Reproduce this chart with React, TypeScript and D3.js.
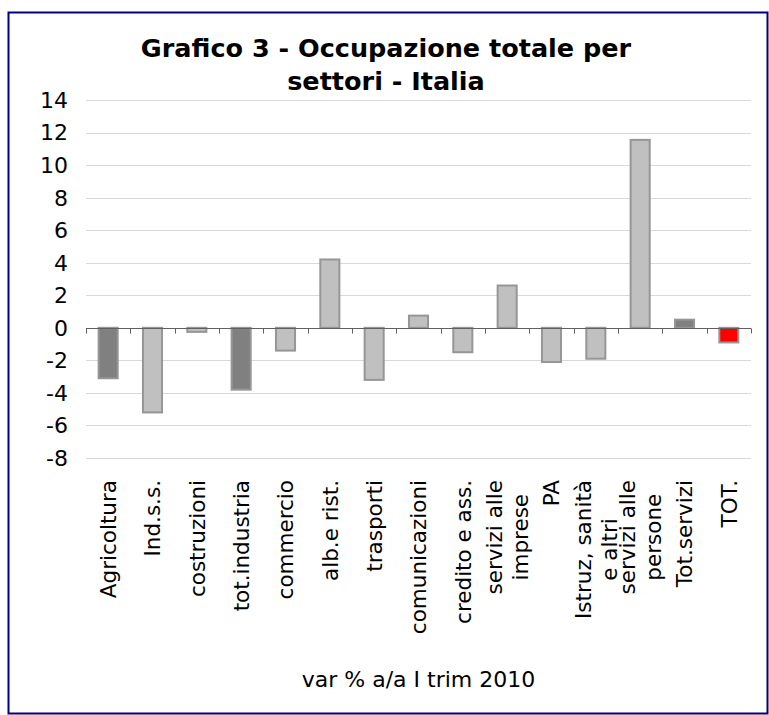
import React, { useEffect, useRef } from 'react';
import * as d3 from 'd3';

const categories = [
  'Agricoltura',
  'Ind.s.s.',
  'costruzioni',
  'tot.industria',
  'commercio',
  'alb.e rist.',
  'trasporti',
  'comunicazioni',
  'credito e ass.',
  'servizi alle\nimprese',
  'PA',
  'Istruz, sanità\ne altri',
  'servizi alle\npersone',
  'Tot.servizi',
  'TOT.',
];
const values = [-3.1, -5.2, -0.25, -3.8, -1.4, 4.2, -3.2, 0.75, -1.5, 2.6, -2.1, -1.9, 11.55, 0.5, -0.9];
const kinds = ['dark', 'light', 'light', 'dark', 'light', 'light', 'light', 'light', 'light', 'light', 'light', 'light', 'light', 'dark', 'total'];
const yTicks = [-8, -6, -4, -2, 0, 2, 4, 6, 8, 10, 12, 14];
const titleLines = ['Grafico 3 - Occupazione totale per', 'settori - Italia'];
const axisTitle = 'var % a/a I trim 2010';

const W = 769;
const H = 715;
const FONT = '"DejaVu Sans", Verdana, sans-serif';

export default function App() {
  const ref = useRef<SVGSVGElement>(null);

  useEffect(() => {
    const svg = d3.select(ref.current);
    svg.selectAll('*').remove();

    const x0 = 86, x1 = 751, yTop = 100, yBot = 458;
    const x = d3.scaleBand<string>().domain(categories).range([x0, x1]).padding(0);
    const y = d3.scaleLinear().domain([-8, 14]).range([yBot, yTop]);
    const bw = x.bandwidth();
    const barW = bw * 0.43;

    const fills: Record<string, string> = { dark: '#808080', light: '#c0c0c0', total: '#ff0000' };

    // border
    svg.append('rect')
      .attr('x', 8.5).attr('y', 12.5).attr('width', 759).attr('height', 701)
      .attr('fill', '#fff').attr('stroke', '#000080').attr('stroke-width', 2);

    // gridlines
    svg.append('g').selectAll('line').data(yTicks.filter((t) => t !== 0)).join('line')
      .attr('x1', x0).attr('x2', x1)
      .attr('y1', (d) => Math.round(y(d)) + 0.5).attr('y2', (d) => Math.round(y(d)) + 0.5)
      .attr('stroke', '#d9d9d9').attr('stroke-width', 1);

    // bars
    svg.append('g').selectAll('rect').data(values).join('rect')
      .attr('x', (_d, i) => (x(categories[i]) as number) + bw / 2 - barW / 2)
      .attr('y', (d) => Math.min(y(d), y(0)))
      .attr('width', barW)
      .attr('height', (d) => Math.abs(y(d) - y(0)))
      .attr('fill', (_d, i) => fills[kinds[i]])
      .attr('stroke', '#969696')
      .attr('stroke-width', 2);

    // zero axis
    const y0 = Math.round(y(0)) + 0.5;
    svg.append('line').attr('x1', x0).attr('x2', x1).attr('y1', y0).attr('y2', y0)
      .attr('stroke', '#606060').attr('stroke-width', 1);
    const tickXs = categories.map((c) => x(c) as number).concat([x1]);
    svg.append('g').selectAll('line').data(tickXs).join('line')
      .attr('x1', (d) => Math.round(d) + 0.5).attr('x2', (d) => Math.round(d) + 0.5)
      .attr('y1', y0).attr('y2', y0 + 5)
      .attr('stroke', '#606060').attr('stroke-width', 1);

    // y labels
    svg.append('g').selectAll('text').data(yTicks).join('text')
      .attr('x', 68).attr('y', (d) => y(d))
      .attr('dy', '0.36em')
      .attr('text-anchor', 'end')
      .attr('font-family', FONT).attr('font-size', 22).attr('fill', '#000')
      .text((d) => String(d));

    // category labels (rotated)
    const lineGap = 26;
    categories.forEach((c) => {
      const lines = c.split('\n');
      const cx = (x(c) as number) + bw / 2;
      const g = svg.append('g').attr('transform', `translate(${cx},480) rotate(-90)`);
      const texts = lines.map((ln, j) =>
        g.append('text')
          .attr('font-family', FONT).attr('font-size', 21.5).attr('fill', '#000')
          .attr('y', (j - (lines.length - 1) / 2) * lineGap)
          .attr('dy', '0.36em')
          .attr('text-anchor', 'middle')
          .text(ln)
      );
      const lens = texts.map((t) => (t.node() as SVGTextElement).getComputedTextLength());
      const maxL = Math.max(...lens);
      texts.forEach((t) => t.attr('x', -maxL / 2));
    });

    // title
    svg.append('g').selectAll('text').data(titleLines).join('text')
      .attr('x', 386).attr('y', (_d, i) => 57 + i * 33)
      .attr('text-anchor', 'middle')
      .attr('font-family', FONT).attr('font-weight', 'bold').attr('font-size', 25.5).attr('fill', '#000')
      .text((d) => d);

    // axis title
    svg.append('text')
      .attr('x', (x0 + x1) / 2).attr('y', 687)
      .attr('text-anchor', 'middle')
      .attr('font-family', FONT).attr('font-size', 22).attr('fill', '#000')
      .text(axisTitle);
  }, []);

  return (
    <svg
      ref={ref}
      width={W}
      height={H}
      style={{ position: 'absolute', left: 0, top: 0, background: '#fff' }}
    />
  );
}
